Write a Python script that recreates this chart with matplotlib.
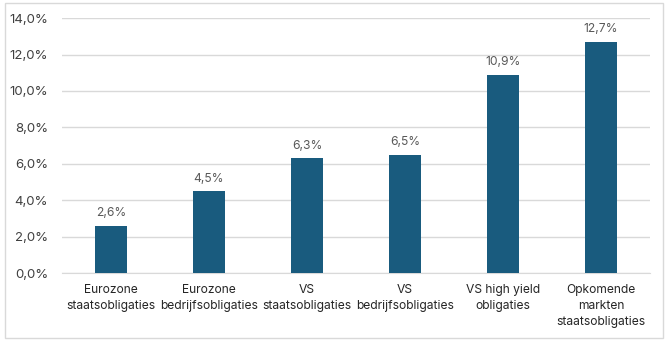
import matplotlib.pyplot as plt
from matplotlib.patches import Rectangle
from matplotlib.ticker import FuncFormatter

categories = ['Eurozone\nstaatsobligaties', 'Eurozone\nbedrijfsobligaties', 'VS\nstaatsobligaties',
              'VS\nbedrijfsobligaties', 'VS high yield\nobligaties', 'Opkomende\nmarkten\nstaatsobligaties']
values = [2.6, 4.5, 6.3, 6.5, 10.9, 12.7]

plt.rcParams['font.family'] = ['Inter', 'DejaVu Sans']

fig = plt.figure(figsize=(6.7, 3.41), dpi=100)
ax = fig.add_axes([0.0925, 0.199, 0.8775, 0.748])

x = range(len(values))
bars = ax.bar(x, values, width=0.32, color='#195b7e', zorder=3)
for xi, v in zip(x, values):
    ax.text(xi, v + 0.35, f'{v:.1f}%'.replace('.', ','), ha='center', va='bottom',
            fontsize=8.7, color='#595959')

ax.set_xlim(-0.5, len(values) - 0.5)
ax.set_ylim(0, 14)
ax.set_yticks(range(0, 15, 2))
ax.yaxis.set_major_formatter(FuncFormatter(lambda v, p: f'{v:.1f}%'.replace('.', ',')))
ax.set_xticks(list(x))
ax.set_xticklabels(categories, fontsize=8.7, color='#262626', linespacing=1.45)
ax.tick_params(axis='y', labelsize=9.5, labelcolor='#404040', length=0, pad=10)
ax.tick_params(axis='x', length=0, pad=8)
ax.grid(axis='y', color='#d9d9d9', linewidth=1, zorder=0)
for s in ['top', 'right', 'left']:
    ax.spines[s].set_visible(False)
ax.spines['bottom'].set_color('#d9d9d9')

fig.patches.append(Rectangle((0.007, 0.01), 0.983, 0.98, transform=fig.transFigure,
                             fill=False, edgecolor='#d9d9d9', linewidth=1))

fig.savefig('out.png', dpi=100)
